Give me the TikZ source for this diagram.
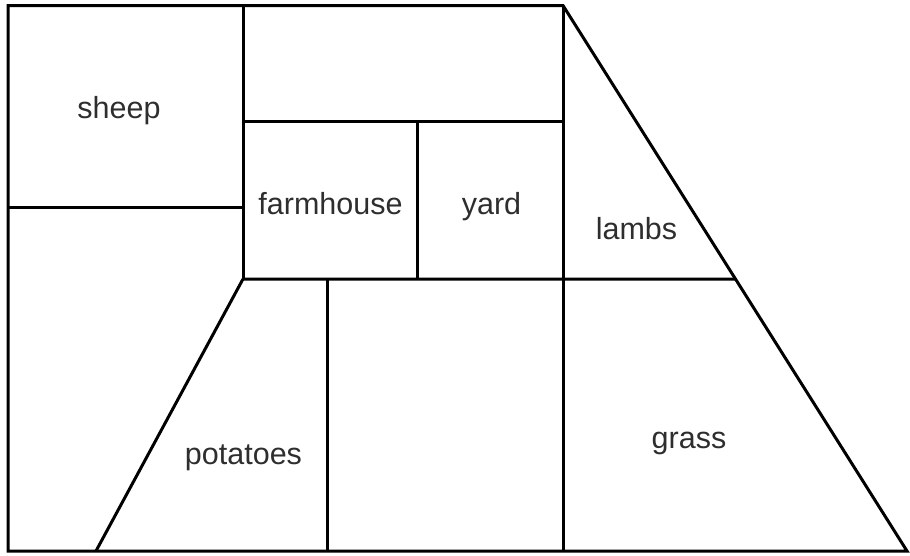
\documentclass[tikz,border=0pt]{standalone}
\usepackage{fontspec}
\setmainfont{Liberation Sans}
\usetikzlibrary{calc}
\tikzset{
  wall/.style={line width=3pt, draw=black},
  lbl/.style={inner sep=0pt, anchor=base, text=black!82, font=\fontsize{30.5}{36}\selectfont}
}
\begin{document}
\begin{tikzpicture}[x=1pt,y=-1pt]
\useasboundingbox (0,0) rectangle (910,555);
% corners
\coordinate (tl) at (8,5.5);
\coordinate (tm) at (243,5.5);
\coordinate (tr) at (563,5.5);
\coordinate (br) at (907,551);
\coordinate (bl) at (8,551);
\coordinate (sl) at (8,207);
\coordinate (sr) at (243,207);
\coordinate (fl) at (243,121);
\coordinate (fr) at (563,121);
\coordinate (yt) at (417,121);
\coordinate (yb) at (417,279);
\coordinate (ml) at (243,279);
\coordinate (mr) at ($(tr)!{(279-5.5)/545.5}!(br)$);
\coordinate (pb) at (96,551);
\coordinate (ct) at (327,279);
\coordinate (cb) at (327,551);
\coordinate (gb) at (563,551);
% outline
\draw[wall] (tl) -- (tr) -- (br) -- (bl) -- cycle;
% inner walls
\draw[wall] (tm) -- (ml);
\draw[wall] (sl) -- (sr);
\draw[wall] (fl) -- (fr);
\draw[wall] (tr) -- (gb);
\draw[wall] (yt) -- (yb);
\draw[wall] (ml) -- (mr);
\draw[wall] (ml) -- (pb);
\draw[wall] (ct) -- (cb);
% labels
\node[lbl] (sheep) at (119,118) {sheep};
\node[lbl] (farmhouse) at (330.5,214) {farmhouse};
\node[lbl] (yard) at (491.5,214) {yard};
\node[lbl] (lambs) at (636.5,239) {lambs};
\node[lbl] (potatoes) at (243.5,464) {potatoes};
\node[lbl] (grass) at (689,448) {grass};
\end{tikzpicture}
\end{document}
